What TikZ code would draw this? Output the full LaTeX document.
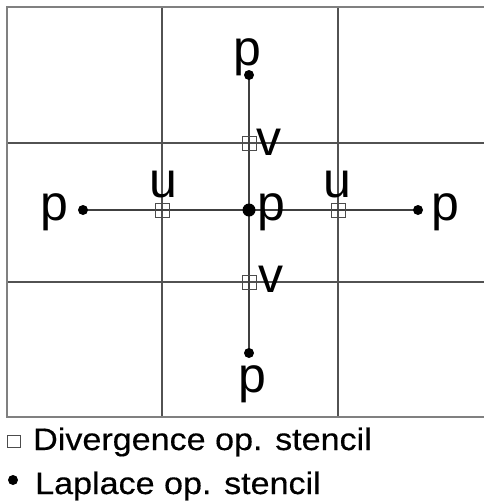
\documentclass[tikz,border=0pt]{standalone}
\usepackage{fontspec}
\setmainfont{Liberation Sans}
\newfontfamily\legfont[FakeStretch=1.1,FakeBold=0.4]{Liberation Sans}
\begin{document}
\begin{tikzpicture}[x=1pt,y=-1pt,
  gridline/.style={line width=1.5pt,draw=black!68},
  border/.style={line width=2.4pt,draw=black!50},
  stencil/.style={line width=1.3pt,draw=black!75},
  divbox/.style={draw=black!70,line width=1pt,fill=none,minimum size=14pt,inner sep=0pt,rectangle},
  lapdot/.style={circle,fill=black,inner sep=0pt,minimum size=10pt},
  lbl/.style={font=\fontsize{50}{60}\selectfont,inner sep=0pt,anchor=base},
  leg/.style={font=\legfont\fontsize{31}{37}\selectfont,inner sep=0pt,anchor=base west}]
\useasboundingbox (0,0) rectangle (483,504);
% grid
\draw[gridline] (162,7) -- (162,417);
\draw[gridline] (338,7) -- (338,417);
\draw[gridline] (7,143) -- (490,143);
\draw[gridline] (7,282) -- (490,282);
\draw[border] (490,7) -- (7,7) -- (7,417) -- (490,417);
% stencil positions
\coordinate (pT) at (249,75);
\coordinate (pB) at (249,353);
\coordinate (pL) at (83,210);
\coordinate (pR) at (418,210);
\coordinate (pC) at (249,210);
\coordinate (uL) at (162,210);
\coordinate (uR) at (338,210);
\coordinate (vT) at (249,143);
\coordinate (vB) at (249,282);
\draw[stencil] (pT) -- (vT) -- (pC) -- (vB) -- (pB);
\draw[stencil] (pL) -- (uL) -- (pC) -- (uR) -- (pR);
% divergence boxes
\node[divbox] (bxuL) at (uL) {};
\node[divbox] (bxuR) at (uR) {};
\node[divbox] (bxvT) at (vT) {};
\node[divbox] (bxvB) at (vB) {};
% laplace dots
\node[lapdot] (dpT) at (pT) {};
\node[lapdot] (dpB) at (pB) {};
\node[lapdot] (dpL) at (pL) {};
\node[lapdot] (dpR) at (pR) {};
\node[lapdot,minimum size=13pt] (dpC) at (pC) {};
% labels
\node[lbl] (lpT) at (247,65) {p};
\node[lbl] (lpB) at (252,392) {p};
\node[lbl] (lpL) at (54,220) {p};
\node[lbl] (lpR) at (445,220) {p};
\node[lbl] (lpC) at (271,220) {p};
\node[lbl] (luL) at (163,197) {u};
\node[lbl] (luR) at (337,197) {u};
\node[lbl] (lvT) at (269,155) {v};
\node[lbl] (lvB) at (271,292) {v};
% legend
\node[divbox,minimum width=13pt,minimum height=12pt] (legbox) at (14,441) {};
\node[lapdot] (legdot) at (13,480) {};
\node[leg] (legdiv) at (33,450) {Divergence op. stencil};
\node[leg] (leglap) at (35,494) {Laplace op. stencil};
\end{tikzpicture}
\end{document}
